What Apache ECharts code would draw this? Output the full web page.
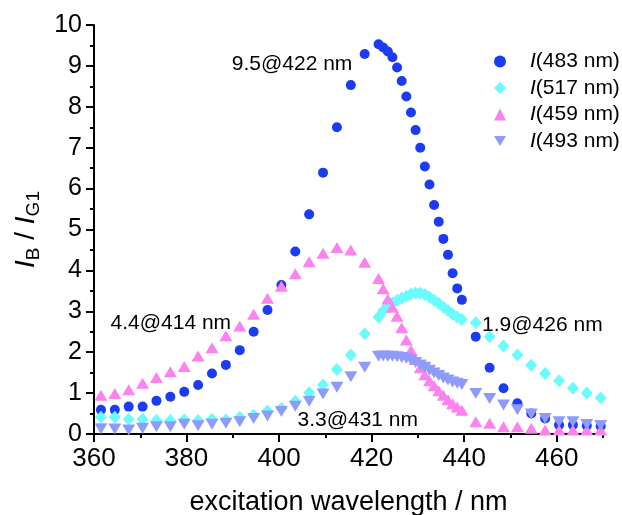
<!DOCTYPE html>
<html><head><meta charset="utf-8">
<script src="https://cdn.jsdelivr.net/npm/echarts@6/dist/echarts.min.js"></script>
<style>html,body{margin:0;padding:0;background:#fff}#c{width:622px;height:515px}</style>
</head><body><div id="c"></div>
<script>
const FONT = "'Liberation Sans', Arial, sans-serif";

// excitation wavelengths (nm)
const wavelengths = [361.5, 364.5, 367.5, 370.5, 373.5, 376.5, 379.5, 382.5, 385.5, 388.5,
  391.5, 394.5, 397.5, 400.5, 403.5, 406.5, 409.5, 412.5, 415.5, 418.5,
  421.5, 422.5, 423.5, 424.5, 425.5, 426.5, 427.5, 428.5, 429.5, 430.5,
  431.5, 432.5, 433.5, 434.5, 435.5, 436.5, 437.5, 438.5, 439.5,
  442.5, 445.5, 448.5, 451.5, 454.5, 457.5, 460.5, 463.5, 466.5, 469.5];

const seriesNames = ['I(483 nm)', 'I(517 nm)', 'I(459 nm)', 'I(493 nm)'];

const I483 = [0.59, 0.59, 0.67, 0.67, 0.81, 0.91, 1.03, 1.20, 1.48, 1.69,
  2.05, 2.50, 3.03, 3.64, 4.46, 5.37, 6.39, 7.50, 8.53, 9.29,
  9.53, 9.45, 9.35, 9.21, 8.96, 8.63, 8.25, 7.86, 7.43, 7.00,
  6.54, 6.10, 5.60, 5.19, 4.77, 4.38, 3.93, 3.56, 3.28,
  2.38, 1.62, 1.12, 0.75, 0.50, 0.38, 0.22, 0.22, 0.20, 0.19];

const I517 = [0.41, 0.41, 0.36, 0.36, 0.33, 0.33, 0.34, 0.33, 0.36, 0.34,
  0.41, 0.46, 0.56, 0.63, 0.80, 1.01, 1.20, 1.58, 1.93, 2.45,
  2.86, 3.02, 3.12, 3.20, 3.27, 3.32, 3.37, 3.42, 3.45, 3.44,
  3.41, 3.35, 3.27, 3.19, 3.10, 3.02, 2.93, 2.86, 2.80,
  2.72, 2.38, 2.15, 1.93, 1.68, 1.48, 1.30, 1.12, 1.00, 0.88];

const I459 = [0.95, 0.99, 1.08, 1.24, 1.38, 1.52, 1.65, 1.91, 2.11, 2.40,
  2.64, 2.93, 3.32, 3.61, 3.92, 4.21, 4.42, 4.56, 4.50, 4.20,
  3.80, 3.55, 3.30, 3.10, 2.88, 2.60, 2.30, 2.05, 1.82, 1.62,
  1.45, 1.30, 1.18, 1.06, 0.95, 0.84, 0.74, 0.66, 0.58,
  0.30, 0.26, 0.18, 0.18, 0.14, 0.10, 0.10, 0.10, 0.10, 0.10];

const I493 = [0.13, 0.12, 0.10, 0.14, 0.18, 0.18, 0.24, 0.20, 0.24, 0.26,
  0.30, 0.38, 0.44, 0.55, 0.68, 0.80, 0.98, 1.14, 1.40, 1.63,
  1.90, 1.91, 1.90, 1.90, 1.89, 1.87, 1.85, 1.81, 1.75, 1.69,
  1.63, 1.56, 1.49, 1.43, 1.37, 1.32, 1.27, 1.24, 1.21,
  0.99, 0.87, 0.71, 0.59, 0.49, 0.38, 0.30, 0.30, 0.23, 0.21];

// annotations placed in data coordinates
const annoX = [402.8, 376.6, 456.9, 417.0];
const annoY = [9.05, 2.71, 2.67, 0.34];
const annoText = ['9.5@422 nm', '4.4@414 nm', '1.9@426 nm', '3.3@431 nm'];

const xMajorTicks = [360, 380, 400, 420, 440, 460];
const xMin = 360, xMax = 470;
const yMin = 0, yMax = 10;

const colors = ['#1c3cf4', '#6cfbfb', '#fc82ee', '#8f9bfb'];
const symbols = ['circle', 'diamond', 'triangle', 'triangle'];
const legendIcons = ['circle', 'diamond', 'triangle', 'path://M0,0 L12,0 L6,10 Z'];
const symbolSizes = [10, [12, 13], [13, 11], [13, 11]];
const symbolRotates = [0, 0, 0, 180];
const values = [I483, I517, I459, I493];

const chart = echarts.init(document.getElementById('c'), null, {renderer: 'canvas'});

const series = values.map((vals, k) => ({
  name: seriesNames[k],
  type: 'scatter',
  xAxisIndex: 0,
  symbol: symbols[k],
  symbolSize: symbolSizes[k],
  symbolRotate: symbolRotates[k],
  itemStyle: {color: colors[k], opacity: 1},
  data: wavelengths.map((w, i) => [w, vals[i]]),
  z: 2 + k
}));

series.push({
  name: 'annotations',
  type: 'scatter',
  xAxisIndex: 0,
  symbolSize: 0,
  silent: true,
  z: 10,
  itemStyle: {color: '#000', opacity: 1},
  data: annoX.map((x, i) => ({value: [x, annoY[i]], label: {formatter: annoText[i]}})),
  label: {show: true, position: 'inside', color: '#000', opacity: 1, fontSize: 21, fontFamily: FONT,
    textBorderWidth: 0, textShadowBlur: 0}
});

const axisLineStyle = {color: '#000', width: 2};

chart.setOption({
  animation: false,
  backgroundColor: '#fff',
  grid: {left: 94, top: 25, right: 19, bottom: 81, containLabel: false, outerBoundsMode: 'none'},
  legend: {
    data: seriesNames.map((n, k) => ({name: n, icon: legendIcons[k]})),
    orient: 'vertical',
    left: 489,
    top: 46,
    itemWidth: 12,
    itemHeight: 12,
    itemGap: 5.5,
    formatter: name => '{it|I}{n|' + name.slice(1) + '}',
    textStyle: {
      color: '#000', fontSize: 21, fontFamily: FONT,
      rich: {
        it: {fontStyle: 'italic', fontSize: 21, fontFamily: FONT, padding: [0, 0, 0, 19], lineHeight: 21, color: '#000'},
        n: {fontSize: 21, fontFamily: FONT, lineHeight: 21, color: '#000'}
      }
    }
  },
  xAxis: [{
    type: 'value', min: xMin, max: xMax, interval: 20,
    name: 'excitation wavelength / nm',
    nameLocation: 'middle', nameGap: 55,
    nameTextStyle: {color: '#000', fontSize: 27, fontFamily: FONT},
    axisLine: {show: true, onZero: false, lineStyle: axisLineStyle},
    axisTick: {show: true, length: 8, lineStyle: {color: '#000', width: 2}, customValues: xMajorTicks},
    axisLabel: {color: '#000', fontSize: 26, fontFamily: FONT, margin: 12, customValues: xMajorTicks},
    splitLine: {show: false}
  }, {
    type: 'value', min: xMin, max: xMax, interval: 10, position: 'bottom',
    axisLine: {show: false},
    axisTick: {show: true, length: 4, lineStyle: {color: '#000', width: 2}},
    axisLabel: {show: false},
    splitLine: {show: false}
  }],
  yAxis: {
    type: 'value', min: yMin, max: yMax, interval: 1,
    name: '{it|I}{sub|B}{n| / }{it|I}{sub|G1}',
    nameLocation: 'middle', nameGap: 50, nameRotate: 90,
    nameTextStyle: {
      color: '#000', fontFamily: FONT,
      rich: {
        it: {fontStyle: 'italic', fontSize: 28, fontFamily: FONT, lineHeight: 34, color: '#000'},
        n: {fontSize: 28, fontFamily: FONT, lineHeight: 34, color: '#000'},
        sub: {fontSize: 19, fontFamily: FONT, lineHeight: 18, verticalAlign: 'bottom', color: '#000'}
      }
    },
    axisLine: {show: true, onZero: false, lineStyle: axisLineStyle},
    axisTick: {show: true, length: 8, lineStyle: {color: '#000', width: 2}},
    minorTick: {show: true, splitNumber: 2, length: 4, lineStyle: {color: '#000', width: 2}},
    axisLabel: {color: '#000', fontSize: 25, fontFamily: FONT, margin: 12},
    splitLine: {show: false}
  },
  series
});
</script>
</body></html>
